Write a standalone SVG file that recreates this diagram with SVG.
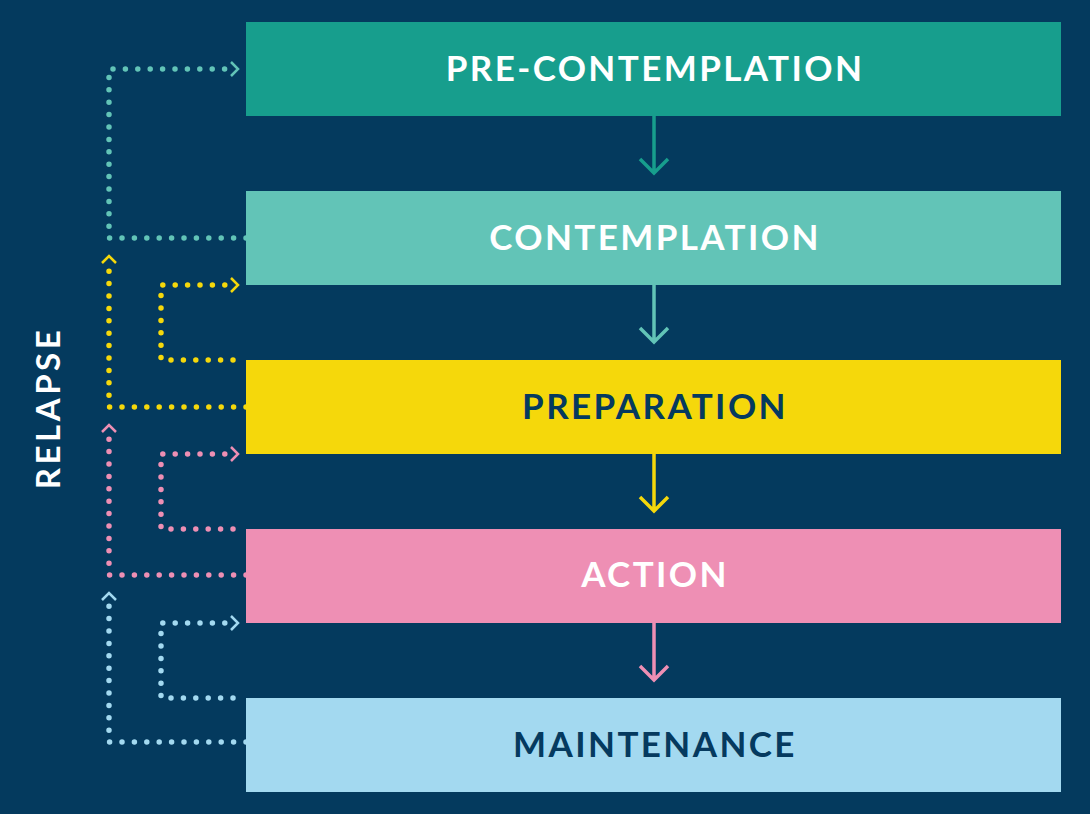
<svg xmlns="http://www.w3.org/2000/svg" width="1090" height="814" viewBox="0 0 1090 814">
<style>
.dot{fill:none;stroke-width:5.5;stroke-linecap:round;stroke-dasharray:0 12.4}
.chev{fill:none;stroke-width:2.5;stroke-linecap:butt;stroke-linejoin:miter}
.arr{fill:none;stroke-width:3.5}
.lbl{font-family:Lato,"Open Sans",sans-serif;font-weight:bold;font-size:35px;letter-spacing:2.4px;text-anchor:middle}
.w{fill:#ffffff}.n{fill:#053a5f}
</style>
<rect width="1090" height="814" fill="#043a5e"/>
<g id="connectors">
  <path class="arr" stroke="#179e8d" d="M654,116V173M640,159L654,173L668,159"/>
  <path class="arr" stroke="#62c4b7" d="M654,285V342M640,328L654,342L668,328"/>
  <path class="arr" stroke="#f5d80b" d="M654,454V511M640,497L654,511L668,497"/>
  <path class="arr" stroke="#ee8fb4" d="M654,623V680M640,666L654,680L668,666"/>
  <path class="dot" stroke="#62c4b7" d="M246,238H109V69H230"/>
  <path class="chev" stroke="#62c4b7" d="M231,62L238,69L231,76"/>
  <path class="dot" stroke="#f5d80b" d="M233,360H161V285H230"/>
  <path class="chev" stroke="#f5d80b" d="M231,278L238,285L231,292"/>
  <path class="dot" stroke="#f5d80b" d="M246,407H109V262"/>
  <path class="chev" stroke="#f5d80b" d="M102,263L109,256L116,263"/>
  <path class="dot" stroke="#ee8fb4" d="M233,529H161V454H230"/>
  <path class="chev" stroke="#ee8fb4" d="M231,447L238,454L231,461"/>
  <path class="dot" stroke="#ee8fb4" d="M246,575H109V431"/>
  <path class="chev" stroke="#ee8fb4" d="M102,432L109,425L116,432"/>
  <path class="dot" stroke="#a3d9f0" d="M233,698H161V623H230"/>
  <path class="chev" stroke="#a3d9f0" d="M231,616L238,623L231,630"/>
  <path class="dot" stroke="#a3d9f0" d="M246,742H109V599"/>
  <path class="chev" stroke="#a3d9f0" d="M102,600L109,593L116,600"/>
</g>
<g id="precontemplation">
  <rect x="246" y="22" width="815" height="94" fill="#179e8d"/>
  <text class="lbl w" x="655" y="81">PRE-CONTEMPLATION</text>
</g>
<g id="contemplation">
  <rect x="246" y="191" width="815" height="94" fill="#62c4b7"/>
  <text class="lbl w" x="655" y="250">CONTEMPLATION</text>
</g>
<g id="preparation">
  <rect x="246" y="360" width="815" height="94" fill="#f5d80b"/>
  <text class="lbl n" x="655" y="419">PREPARATION</text>
</g>
<g id="action">
  <rect x="246" y="529" width="815" height="94" fill="#ee8fb4"/>
  <text class="lbl w" x="655" y="587">ACTION</text>
</g>
<g id="maintenance">
  <rect x="246" y="698" width="815" height="94" fill="#a3d9f0"/>
  <text class="lbl n" x="655" y="757">MAINTENANCE</text>
</g>
<g id="relapse">
  <text class="lbl w" transform="translate(60,408) rotate(-90)" style="font-size:33px;letter-spacing:3.5px">RELAPSE</text>
</g>
</svg>
